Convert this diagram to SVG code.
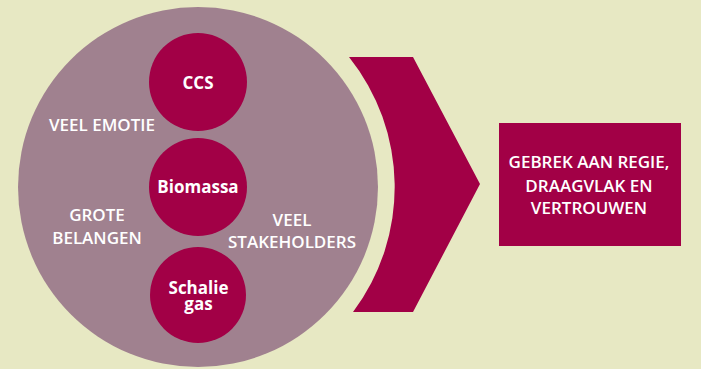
<svg xmlns="http://www.w3.org/2000/svg" width="701" height="369" viewBox="0 0 701 369">
  <style>
    .lbl { font-family: "Open Sans", "Liberation Sans", sans-serif; font-weight: 600; fill: #ffffff; text-anchor: middle; font-size: 17px; }
    .node { font-family: "Open Sans", "Liberation Sans", sans-serif; font-weight: 700; fill: #ffffff; text-anchor: middle; font-size: 17px; }
    .maroon { fill: #A20046; }
  </style>
  <rect x="0" y="0" width="701" height="369" fill="#E7E8C3"/>
  <g id="big-circle">
    <circle cx="198" cy="187" r="180" fill="#A0818F"/>
    <text class="lbl" x="102" y="131">VEEL EMOTIE</text>
    <text class="lbl" x="97" y="220.5"><tspan x="97">GROTE</tspan><tspan x="97" dy="23.5">BELANGEN</tspan></text>
    <text class="lbl" x="292" y="226"><tspan x="292">VEEL</tspan><tspan x="292" dy="22.3">STAKEHOLDERS</tspan></text>
  </g>
  <g id="ccs">
    <circle class="maroon" cx="198" cy="82" r="49"/>
    <text class="node" x="198" y="89">CCS</text>
  </g>
  <g id="biomassa">
    <circle class="maroon" cx="198" cy="187" r="49"/>
    <text class="node" x="198" y="193.3">Biomassa</text>
  </g>
  <g id="schaliegas">
    <circle class="maroon" cx="198" cy="295" r="48"/>
    <text class="node" x="198.5" y="294"><tspan x="198.5">Schalie</tspan><tspan x="198.5" dy="16">gas</tspan></text>
  </g>
  <g id="connectors">
    <path class="maroon" d="M349 57 L413 57 L480 184 L413 312 L353 312 A208 208 0 0 0 349 57 Z"/>
  </g>
  <g id="result">
    <rect class="maroon" x="499" y="123" width="182" height="123"/>
    <text class="lbl" x="589" y="168.3"><tspan x="589">GEBREK AAN REGIE,</tspan><tspan x="589" dy="23.4">DRAAGVLAK EN</tspan><tspan x="589" dy="22.3">VERTROUWEN</tspan></text>
  </g>
</svg>
